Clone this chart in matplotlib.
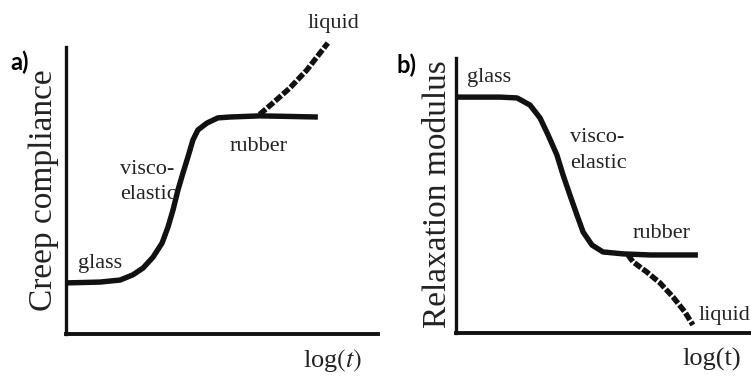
import matplotlib
matplotlib.use("Agg")
import matplotlib.pyplot as plt

plt.rcParams["font.family"] = ["Liberation Serif", "DejaVu Serif"]
plt.rcParams["mathtext.fontset"] = "stix"

# a) creep compliance vs log(t), arbitrary units (0..10 on both axes)
creep_logt = [0.0, 1.08, 1.72, 2.13, 2.46, 2.78, 3.07, 3.26, 3.42, 3.58, 3.74, 3.90,
              4.06, 4.22, 4.51, 4.86, 5.25, 6.20, 7.17, 8.07]
creep_val = [1.77, 1.80, 1.87, 2.05, 2.29, 2.67, 3.16, 3.72, 4.31, 5.01, 5.60, 6.16,
             6.75, 7.10, 7.34, 7.52, 7.55, 7.59, 7.57, 7.55]
creep_liquid_logt = [6.20, 6.63, 7.17, 7.72, 8.14, 8.39]
creep_liquid_val = [7.64, 8.04, 8.56, 9.19, 9.78, 10.13]

# b) relaxation modulus vs log(t)
relax_logt = [0.0, 1.49, 2.07, 2.51, 2.85, 3.12, 3.42, 3.63, 3.86, 4.10, 4.31, 4.61,
              4.98, 5.66, 6.58, 8.20]
relax_val = [8.58, 8.58, 8.55, 8.29, 7.82, 7.21, 6.48, 5.75, 5.03, 4.30, 3.68, 3.21,
             2.96, 2.89, 2.85, 2.85]
relax_liquid_logt = [5.83, 6.00, 6.47, 6.92, 7.36, 7.76, 8.03]
relax_liquid_val = [2.85, 2.60, 2.23, 1.83, 1.32, 0.78, 0.31]

INK = "#111111"
TXT = "#222222"
LW = 3.9
DASH = (0, (1.5, 0.4))

fig = plt.figure(figsize=(7.51, 3.80), dpi=100)
ax1 = fig.add_axes([0.0885, 0.1218, 0.4148, 0.7553])
ax2 = fig.add_axes([0.6072, 0.1224, 0.3928, 0.7250])

for ax in (ax1, ax2):
    ax.set_xlim(0, 10)
    ax.set_ylim(0, 10)
    ax.set_xticks([])
    ax.set_yticks([])
    ax.spines["top"].set_visible(False)
    ax.spines["right"].set_visible(False)
    ax.spines["left"].set_linewidth(2.4)
    ax.spines["bottom"].set_linewidth(2.8)
    ax.spines["left"].set_color(INK)
    ax.spines["bottom"].set_color(INK)
    ax.patch.set_visible(False)

solid = dict(color=INK, lw=LW, solid_capstyle="butt", solid_joinstyle="round", clip_on=False)
dashed = dict(color=INK, lw=LW, linestyle=DASH, dash_joinstyle="round", clip_on=False)
lab = dict(fontsize=16, color=TXT, va="baseline", ha="left", clip_on=False)

# --- a) creep ---
ax1.plot(creep_logt, creep_val, **solid)
ax1.plot(creep_liquid_logt, creep_liquid_val, **dashed)
ax1.text(7.75, 10.65, "liquid", **lab)
ax1.text(5.25, 6.37, "rubber", **lab)
ax1.text(1.72, 5.57, "visco-", **lab)
ax1.text(1.72, 4.69, "elastic", **lab)
ax1.text(0.37, 2.29, "glass", **lab)
ax1.text(8.56, -1.16, r"log$(t)$", ha="center", fontsize=19, color=TXT, va="baseline", clip_on=False)

# --- b) relaxation ---
ax2.plot(relax_logt, relax_val, **solid)
ax2.plot(relax_liquid_logt, relax_liquid_val, **dashed)
ax2.text(0.37, 9.13, "glass", **lab)
ax2.text(3.86, 6.95, "visco-", **lab)
ax2.text(3.86, 6.01, "elastic", **lab)
ax2.text(5.97, 3.47, "rubber", **lab)
ax2.text(8.22, 0.49, "liquid", **lab)
ax2.text(8.68, -1.18, "log(t)", ha="center", fontsize=19, color=TXT, va="baseline", clip_on=False)

# axis titles and panel letters
fig.text(0.0586, 0.500, "Creep compliance", rotation=90, ha="center", va="center",
         fontsize=24, color=TXT)
fig.text(0.5832, 0.4895, "Relaxation modulus", rotation=90, ha="center", va="center",
         fontsize=24, color=TXT)
fig.text(10 / 751, 1 - 70 / 380, "a)", family=["Lato", "DejaVu Sans"], fontweight="bold",
         fontsize=17, color="black", ha="left", va="baseline")
fig.text(397 / 751, 1 - 73 / 380, "b)", family=["Lato", "DejaVu Sans"], fontweight="bold",
         fontsize=17, color="black", ha="left", va="baseline")

fig.savefig("out.png", dpi=100)
